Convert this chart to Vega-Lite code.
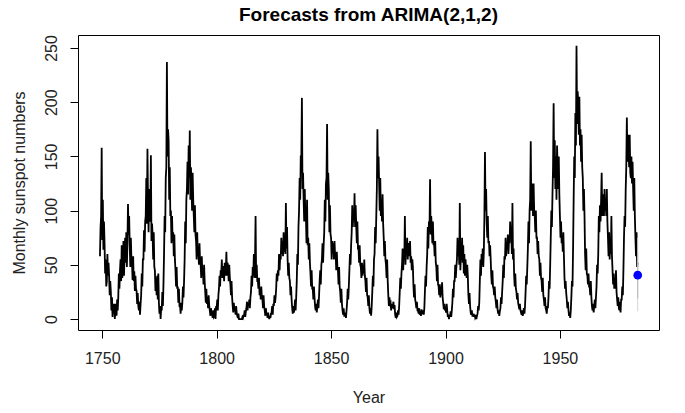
{
  "$schema": "https://vega.github.io/schema/vega-lite/v6.json",
  "width": 581,
  "height": 295,
  "autosize": {"type": "none"},
  "padding": {"left": 78, "top": 35, "right": 26, "bottom": 83},
  "background": "white",
  "config": {
    "view": {"stroke": "black", "strokeWidth": 1},
    "font": "Liberation Sans",
    "axis": {"grid": false, "domain": false, "tickColor": "black", "tickSize": 8, "labelColor": "#222", "titleColor": "#222", "labelFont": "Liberation Sans", "titleFont": "Liberation Sans", "labelFontSize": 16, "titleFontSize": 16, "titleFontWeight": "normal"}
  },
  "title": {"text": "Forecasts from ARIMA(2,1,2)", "font": "Liberation Sans", "fontSize": 19, "fontWeight": "bold", "color": "black", "anchor": "middle", "offset": 10},
  "datasets": {
    "s": [
{"t":1749,"v":58},{"t":1749.25,"v":84},{"t":1749.5,"v":95},{"t":1749.75,"v":158},
{"t":1750,"v":73},{"t":1750.25,"v":110},{"t":1750.5,"v":64},{"t":1750.75,"v":90},
{"t":1751,"v":70},{"t":1751.25,"v":42},{"t":1751.5,"v":55},{"t":1751.75,"v":30},
{"t":1752,"v":35},{"t":1752.25,"v":60},{"t":1752.5,"v":40},{"t":1752.75,"v":52},
{"t":1753,"v":40},{"t":1753.25,"v":22},{"t":1753.5,"v":35},{"t":1753.75,"v":25},
{"t":1754,"v":8},{"t":1754.25,"v":20},{"t":1754.5,"v":2},{"t":1754.75,"v":14},
{"t":1755,"v":5},{"t":1755.25,"v":14},{"t":1755.5,"v":0},{"t":1755.75,"v":12},
{"t":1756,"v":14},{"t":1756.25,"v":3},{"t":1756.5,"v":18},{"t":1756.75,"v":8},
{"t":1757,"v":20},{"t":1757.25,"v":42},{"t":1757.5,"v":28},{"t":1757.75,"v":45},
{"t":1758,"v":55},{"t":1758.25,"v":35},{"t":1758.5,"v":68},{"t":1758.75,"v":38},
{"t":1759,"v":48},{"t":1759.25,"v":72},{"t":1759.5,"v":40},{"t":1759.75,"v":60},
{"t":1760,"v":75},{"t":1760.25,"v":52},{"t":1760.5,"v":80},{"t":1760.75,"v":48},
{"t":1761,"v":70},{"t":1761.25,"v":106},{"t":1761.5,"v":78},{"t":1761.75,"v":95},
{"t":1762,"v":68},{"t":1762.25,"v":48},{"t":1762.5,"v":75},{"t":1762.75,"v":55},
{"t":1763,"v":52},{"t":1763.25,"v":36},{"t":1763.5,"v":58},{"t":1763.75,"v":35},
{"t":1764,"v":44},{"t":1764.25,"v":26},{"t":1764.5,"v":40},{"t":1764.75,"v":28},
{"t":1765,"v":26},{"t":1765.25,"v":14},{"t":1765.5,"v":24},{"t":1765.75,"v":12},
{"t":1766,"v":8},{"t":1766.25,"v":16},{"t":1766.5,"v":4},{"t":1766.75,"v":14},
{"t":1767,"v":22},{"t":1767.25,"v":42},{"t":1767.5,"v":30},{"t":1767.75,"v":55},
{"t":1768,"v":55},{"t":1768.25,"v":82},{"t":1768.5,"v":62},{"t":1768.75,"v":90},
{"t":1769,"v":95},{"t":1769.25,"v":130},{"t":1769.5,"v":88},{"t":1769.75,"v":157},
{"t":1770,"v":110},{"t":1770.25,"v":80},{"t":1770.5,"v":120},{"t":1770.75,"v":92},
{"t":1771,"v":90},{"t":1771.25,"v":151},{"t":1771.5,"v":72},{"t":1771.75,"v":88},
{"t":1772,"v":78},{"t":1772.25,"v":55},{"t":1772.5,"v":80},{"t":1772.75,"v":48},
{"t":1773,"v":45},{"t":1773.25,"v":26},{"t":1773.5,"v":38},{"t":1773.75,"v":22},
{"t":1774,"v":40},{"t":1774.25,"v":18},{"t":1774.5,"v":42},{"t":1774.75,"v":15},
{"t":1775,"v":5},{"t":1775.25,"v":12},{"t":1775.5,"v":0},{"t":1775.75,"v":10},
{"t":1776,"v":8},{"t":1776.25,"v":25},{"t":1776.5,"v":12},{"t":1776.75,"v":32},
{"t":1777,"v":60},{"t":1777.25,"v":95},{"t":1777.5,"v":80},{"t":1777.75,"v":130},
{"t":1778,"v":140},{"t":1778.25,"v":237},{"t":1778.5,"v":150},{"t":1778.75,"v":175},
{"t":1779,"v":165},{"t":1779.25,"v":110},{"t":1779.5,"v":140},{"t":1779.75,"v":95},
{"t":1780,"v":100},{"t":1780.25,"v":70},{"t":1780.5,"v":95},{"t":1780.75,"v":72},
{"t":1781,"v":80},{"t":1781.25,"v":58},{"t":1781.5,"v":78},{"t":1781.75,"v":55},
{"t":1782,"v":45},{"t":1782.25,"v":30},{"t":1782.5,"v":48},{"t":1782.75,"v":28},
{"t":1783,"v":30},{"t":1783.25,"v":15},{"t":1783.5,"v":28},{"t":1783.75,"v":12},
{"t":1784,"v":12},{"t":1784.25,"v":5},{"t":1784.5,"v":15},{"t":1784.75,"v":8},
{"t":1785,"v":15},{"t":1785.25,"v":30},{"t":1785.5,"v":20},{"t":1785.75,"v":35},
{"t":1786,"v":55},{"t":1786.25,"v":90},{"t":1786.5,"v":70},{"t":1786.75,"v":110},
{"t":1787,"v":120},{"t":1787.25,"v":145},{"t":1787.5,"v":115},{"t":1787.75,"v":160},
{"t":1788,"v":130},{"t":1788.25,"v":174},{"t":1788.5,"v":110},{"t":1788.75,"v":140},
{"t":1789,"v":125},{"t":1789.25,"v":100},{"t":1789.5,"v":135},{"t":1789.75,"v":110},
{"t":1790,"v":95},{"t":1790.25,"v":80},{"t":1790.5,"v":105},{"t":1790.75,"v":78},
{"t":1791,"v":72},{"t":1791.25,"v":55},{"t":1791.5,"v":80},{"t":1791.75,"v":58},
{"t":1792,"v":65},{"t":1792.25,"v":50},{"t":1792.5,"v":70},{"t":1792.75,"v":52},
{"t":1793,"v":50},{"t":1793.25,"v":38},{"t":1793.5,"v":58},{"t":1793.75,"v":40},
{"t":1794,"v":45},{"t":1794.25,"v":32},{"t":1794.5,"v":50},{"t":1794.75,"v":35},
{"t":1795,"v":25},{"t":1795.25,"v":15},{"t":1795.5,"v":28},{"t":1795.75,"v":14},
{"t":1796,"v":20},{"t":1796.25,"v":10},{"t":1796.5,"v":22},{"t":1796.75,"v":12},
{"t":1797,"v":8},{"t":1797.25,"v":3},{"t":1797.5,"v":10},{"t":1797.75,"v":5},
{"t":1798,"v":4},{"t":1798.25,"v":1},{"t":1798.5,"v":8},{"t":1798.75,"v":2},
{"t":1799,"v":3},{"t":1799.25,"v":10},{"t":1799.5,"v":0},{"t":1799.75,"v":12},
{"t":1800,"v":10},{"t":1800.25,"v":18},{"t":1800.5,"v":8},{"t":1800.75,"v":22},
{"t":1801,"v":28},{"t":1801.25,"v":40},{"t":1801.5,"v":30},{"t":1801.75,"v":45},
{"t":1802,"v":42},{"t":1802.25,"v":55},{"t":1802.5,"v":38},{"t":1802.75,"v":48},
{"t":1803,"v":48},{"t":1803.25,"v":35},{"t":1803.5,"v":52},{"t":1803.75,"v":40},
{"t":1804,"v":45},{"t":1804.25,"v":62},{"t":1804.5,"v":40},{"t":1804.75,"v":52},
{"t":1805,"v":48},{"t":1805.25,"v":35},{"t":1805.5,"v":50},{"t":1805.75,"v":38},
{"t":1806,"v":32},{"t":1806.25,"v":22},{"t":1806.5,"v":35},{"t":1806.75,"v":20},
{"t":1807,"v":12},{"t":1807.25,"v":6},{"t":1807.5,"v":15},{"t":1807.75,"v":8},
{"t":1808,"v":10},{"t":1808.25,"v":4},{"t":1808.5,"v":12},{"t":1808.75,"v":6},
{"t":1809,"v":3},{"t":1809.25,"v":1},{"t":1809.5,"v":5},{"t":1809.75,"v":0},
{"t":1810,"v":0},{"t":1810.25,"v":0},{"t":1810.5,"v":0},{"t":1810.75,"v":0},
{"t":1811,"v":0},{"t":1811.25,"v":2},{"t":1811.5,"v":1},{"t":1811.75,"v":3},
{"t":1812,"v":4},{"t":1812.25,"v":8},{"t":1812.5,"v":2},{"t":1812.75,"v":7},
{"t":1813,"v":10},{"t":1813.25,"v":16},{"t":1813.5,"v":8},{"t":1813.75,"v":15},
{"t":1814,"v":12},{"t":1814.25,"v":18},{"t":1814.5,"v":10},{"t":1814.75,"v":20},
{"t":1815,"v":25},{"t":1815.25,"v":40},{"t":1815.5,"v":30},{"t":1815.75,"v":48},
{"t":1816,"v":40},{"t":1816.25,"v":60},{"t":1816.5,"v":38},{"t":1816.75,"v":55},
{"t":1817,"v":95},{"t":1817.25,"v":38},{"t":1817.5,"v":50},{"t":1817.75,"v":35},
{"t":1818,"v":35},{"t":1818.25,"v":28},{"t":1818.5,"v":38},{"t":1818.75,"v":22},
{"t":1819,"v":28},{"t":1819.25,"v":18},{"t":1819.5,"v":30},{"t":1819.75,"v":20},
{"t":1820,"v":18},{"t":1820.25,"v":10},{"t":1820.5,"v":22},{"t":1820.75,"v":12},
{"t":1821,"v":8},{"t":1821.25,"v":3},{"t":1821.5,"v":10},{"t":1821.75,"v":5},
{"t":1822,"v":4},{"t":1822.25,"v":1},{"t":1822.5,"v":6},{"t":1822.75,"v":2},
{"t":1823,"v":0},{"t":1823.25,"v":3},{"t":1823.5,"v":1},{"t":1823.75,"v":5},
{"t":1824,"v":6},{"t":1824.25,"v":12},{"t":1824.5,"v":4},{"t":1824.75,"v":14},
{"t":1825,"v":12},{"t":1825.25,"v":22},{"t":1825.5,"v":15},{"t":1825.75,"v":20},
{"t":1826,"v":28},{"t":1826.25,"v":42},{"t":1826.5,"v":35},{"t":1826.75,"v":45},
{"t":1827,"v":40},{"t":1827.25,"v":60},{"t":1827.5,"v":45},{"t":1827.75,"v":58},
{"t":1828,"v":55},{"t":1828.25,"v":75},{"t":1828.5,"v":60},{"t":1828.75,"v":72},
{"t":1829,"v":58},{"t":1829.25,"v":80},{"t":1829.5,"v":62},{"t":1829.75,"v":78},
{"t":1830,"v":60},{"t":1830.25,"v":107},{"t":1830.5,"v":65},{"t":1830.75,"v":85},
{"t":1831,"v":55},{"t":1831.25,"v":40},{"t":1831.5,"v":52},{"t":1831.75,"v":38},
{"t":1832,"v":35},{"t":1832.25,"v":22},{"t":1832.5,"v":30},{"t":1832.75,"v":18},
{"t":1833,"v":10},{"t":1833.25,"v":5},{"t":1833.5,"v":12},{"t":1833.75,"v":6},
{"t":1834,"v":10},{"t":1834.25,"v":18},{"t":1834.5,"v":8},{"t":1834.75,"v":20},
{"t":1835,"v":35},{"t":1835.25,"v":60},{"t":1835.5,"v":50},{"t":1835.75,"v":85},
{"t":1836,"v":100},{"t":1836.25,"v":130},{"t":1836.5,"v":110},{"t":1836.75,"v":150},
{"t":1837,"v":150},{"t":1837.25,"v":204},{"t":1837.5,"v":120},{"t":1837.75,"v":135},
{"t":1838,"v":110},{"t":1838.25,"v":90},{"t":1838.5,"v":120},{"t":1838.75,"v":95},
{"t":1839,"v":95},{"t":1839.25,"v":70},{"t":1839.5,"v":110},{"t":1839.75,"v":68},
{"t":1840,"v":75},{"t":1840.25,"v":55},{"t":1840.5,"v":70},{"t":1840.75,"v":52},
{"t":1841,"v":42},{"t":1841.25,"v":30},{"t":1841.5,"v":45},{"t":1841.75,"v":28},
{"t":1842,"v":28},{"t":1842.25,"v":18},{"t":1842.5,"v":30},{"t":1842.75,"v":20},
{"t":1843,"v":12},{"t":1843.25,"v":8},{"t":1843.5,"v":14},{"t":1843.75,"v":6},
{"t":1844,"v":12},{"t":1844.25,"v":18},{"t":1844.5,"v":10},{"t":1844.75,"v":22},
{"t":1845,"v":35},{"t":1845.25,"v":45},{"t":1845.5,"v":32},{"t":1845.75,"v":50},
{"t":1846,"v":55},{"t":1846.25,"v":70},{"t":1846.5,"v":52},{"t":1846.75,"v":68},
{"t":1847,"v":80},{"t":1847.25,"v":110},{"t":1847.5,"v":90},{"t":1847.75,"v":125},
{"t":1848,"v":130},{"t":1848.25,"v":180},{"t":1848.5,"v":110},{"t":1848.75,"v":135},
{"t":1849,"v":120},{"t":1849.25,"v":80},{"t":1849.5,"v":105},{"t":1849.75,"v":78},
{"t":1850,"v":75},{"t":1850.25,"v":55},{"t":1850.5,"v":72},{"t":1850.75,"v":62},
{"t":1851,"v":70},{"t":1851.25,"v":55},{"t":1851.5,"v":72},{"t":1851.75,"v":58},
{"t":1852,"v":60},{"t":1852.25,"v":45},{"t":1852.5,"v":62},{"t":1852.75,"v":48},
{"t":1853,"v":45},{"t":1853.25,"v":32},{"t":1853.5,"v":48},{"t":1853.75,"v":30},
{"t":1854,"v":25},{"t":1854.25,"v":15},{"t":1854.5,"v":28},{"t":1854.75,"v":14},
{"t":1855,"v":8},{"t":1855.25,"v":4},{"t":1855.5,"v":10},{"t":1855.75,"v":3},
{"t":1856,"v":3},{"t":1856.25,"v":6},{"t":1856.5,"v":1},{"t":1856.75,"v":8},
{"t":1857,"v":15},{"t":1857.25,"v":28},{"t":1857.5,"v":18},{"t":1857.75,"v":30},
{"t":1858,"v":45},{"t":1858.25,"v":60},{"t":1858.5,"v":50},{"t":1858.75,"v":68},
{"t":1859,"v":80},{"t":1859.25,"v":105},{"t":1859.5,"v":85},{"t":1859.75,"v":100},
{"t":1860,"v":90},{"t":1860.25,"v":116},{"t":1860.5,"v":85},{"t":1860.75,"v":105},
{"t":1861,"v":85},{"t":1861.25,"v":70},{"t":1861.5,"v":90},{"t":1861.75,"v":65},
{"t":1862,"v":65},{"t":1862.25,"v":52},{"t":1862.5,"v":68},{"t":1862.75,"v":50},
{"t":1863,"v":48},{"t":1863.25,"v":38},{"t":1863.5,"v":52},{"t":1863.75,"v":40},
{"t":1864,"v":50},{"t":1864.25,"v":42},{"t":1864.5,"v":55},{"t":1864.75,"v":40},
{"t":1865,"v":35},{"t":1865.25,"v":25},{"t":1865.5,"v":38},{"t":1865.75,"v":22},
{"t":1866,"v":20},{"t":1866.25,"v":12},{"t":1866.5,"v":22},{"t":1866.75,"v":10},
{"t":1867,"v":5},{"t":1867.25,"v":10},{"t":1867.5,"v":3},{"t":1867.75,"v":12},
{"t":1868,"v":25},{"t":1868.25,"v":40},{"t":1868.5,"v":30},{"t":1868.75,"v":55},
{"t":1869,"v":60},{"t":1869.25,"v":85},{"t":1869.5,"v":70},{"t":1869.75,"v":95},
{"t":1870,"v":120},{"t":1870.25,"v":175},{"t":1870.5,"v":130},{"t":1870.75,"v":150},
{"t":1871,"v":125},{"t":1871.25,"v":100},{"t":1871.5,"v":130},{"t":1871.75,"v":95},
{"t":1872,"v":110},{"t":1872.25,"v":90},{"t":1872.5,"v":115},{"t":1872.75,"v":88},
{"t":1873,"v":75},{"t":1873.25,"v":58},{"t":1873.5,"v":72},{"t":1873.75,"v":55},
{"t":1874,"v":50},{"t":1874.25,"v":38},{"t":1874.5,"v":55},{"t":1874.75,"v":35},
{"t":1875,"v":22},{"t":1875.25,"v":12},{"t":1875.5,"v":20},{"t":1875.75,"v":14},
{"t":1876,"v":15},{"t":1876.25,"v":8},{"t":1876.5,"v":14},{"t":1876.75,"v":10},
{"t":1877,"v":12},{"t":1877.25,"v":16},{"t":1877.5,"v":9},{"t":1877.75,"v":13},
{"t":1878,"v":4},{"t":1878.25,"v":1},{"t":1878.5,"v":6},{"t":1878.75,"v":2},
{"t":1879,"v":3},{"t":1879.25,"v":8},{"t":1879.5,"v":4},{"t":1879.75,"v":12},
{"t":1880,"v":25},{"t":1880.25,"v":38},{"t":1880.5,"v":28},{"t":1880.75,"v":42},
{"t":1881,"v":50},{"t":1881.25,"v":65},{"t":1881.5,"v":45},{"t":1881.75,"v":60},
{"t":1882,"v":55},{"t":1882.25,"v":95},{"t":1882.5,"v":50},{"t":1882.75,"v":65},
{"t":1883,"v":60},{"t":1883.25,"v":75},{"t":1883.5,"v":55},{"t":1883.75,"v":68},
{"t":1884,"v":70},{"t":1884.25,"v":58},{"t":1884.5,"v":72},{"t":1884.75,"v":52},
{"t":1885,"v":58},{"t":1885.25,"v":45},{"t":1885.5,"v":55},{"t":1885.75,"v":48},
{"t":1886,"v":30},{"t":1886.25,"v":20},{"t":1886.5,"v":32},{"t":1886.75,"v":18},
{"t":1887,"v":15},{"t":1887.25,"v":10},{"t":1887.5,"v":16},{"t":1887.75,"v":8},
{"t":1888,"v":8},{"t":1888.25,"v":5},{"t":1888.5,"v":10},{"t":1888.75,"v":4},
{"t":1889,"v":6},{"t":1889.25,"v":3},{"t":1889.5,"v":9},{"t":1889.75,"v":5},
{"t":1890,"v":5},{"t":1890.25,"v":8},{"t":1890.5,"v":4},{"t":1890.75,"v":10},
{"t":1891,"v":25},{"t":1891.25,"v":40},{"t":1891.5,"v":30},{"t":1891.75,"v":48},
{"t":1892,"v":60},{"t":1892.25,"v":85},{"t":1892.5,"v":65},{"t":1892.75,"v":90},
{"t":1893,"v":80},{"t":1893.25,"v":129},{"t":1893.5,"v":78},{"t":1893.75,"v":95},
{"t":1894,"v":85},{"t":1894.25,"v":70},{"t":1894.5,"v":90},{"t":1894.75,"v":68},
{"t":1895,"v":70},{"t":1895.25,"v":58},{"t":1895.5,"v":72},{"t":1895.75,"v":52},
{"t":1896,"v":48},{"t":1896.25,"v":35},{"t":1896.5,"v":50},{"t":1896.75,"v":32},
{"t":1897,"v":30},{"t":1897.25,"v":22},{"t":1897.5,"v":32},{"t":1897.75,"v":20},
{"t":1898,"v":30},{"t":1898.25,"v":22},{"t":1898.5,"v":34},{"t":1898.75,"v":20},
{"t":1899,"v":15},{"t":1899.25,"v":9},{"t":1899.5,"v":14},{"t":1899.75,"v":8},
{"t":1900,"v":10},{"t":1900.25,"v":6},{"t":1900.5,"v":14},{"t":1900.75,"v":8},
{"t":1901,"v":2},{"t":1901.25,"v":4},{"t":1901.5,"v":0},{"t":1901.75,"v":3},
{"t":1902,"v":3},{"t":1902.25,"v":7},{"t":1902.5,"v":2},{"t":1902.75,"v":8},
{"t":1903,"v":15},{"t":1903.25,"v":28},{"t":1903.5,"v":20},{"t":1903.75,"v":35},
{"t":1904,"v":35},{"t":1904.25,"v":50},{"t":1904.5,"v":38},{"t":1904.75,"v":48},
{"t":1905,"v":55},{"t":1905.25,"v":75},{"t":1905.5,"v":58},{"t":1905.75,"v":70},
{"t":1906,"v":50},{"t":1906.25,"v":107},{"t":1906.5,"v":45},{"t":1906.75,"v":60},
{"t":1907,"v":55},{"t":1907.25,"v":75},{"t":1907.5,"v":52},{"t":1907.75,"v":68},
{"t":1908,"v":42},{"t":1908.25,"v":60},{"t":1908.5,"v":40},{"t":1908.75,"v":55},
{"t":1909,"v":45},{"t":1909.25,"v":38},{"t":1909.5,"v":50},{"t":1909.75,"v":40},
{"t":1910,"v":22},{"t":1910.25,"v":14},{"t":1910.5,"v":24},{"t":1910.75,"v":12},
{"t":1911,"v":6},{"t":1911.25,"v":4},{"t":1911.5,"v":8},{"t":1911.75,"v":3},
{"t":1912,"v":3},{"t":1912.25,"v":5},{"t":1912.5,"v":2},{"t":1912.75,"v":4},
{"t":1913,"v":1},{"t":1913.25,"v":2},{"t":1913.5,"v":0},{"t":1913.75,"v":3},
{"t":1914,"v":5},{"t":1914.25,"v":12},{"t":1914.5,"v":8},{"t":1914.75,"v":15},
{"t":1915,"v":35},{"t":1915.25,"v":55},{"t":1915.5,"v":40},{"t":1915.75,"v":60},
{"t":1916,"v":50},{"t":1916.25,"v":65},{"t":1916.5,"v":48},{"t":1916.75,"v":62},
{"t":1917,"v":95},{"t":1917.25,"v":154},{"t":1917.5,"v":100},{"t":1917.75,"v":120},
{"t":1918,"v":90},{"t":1918.25,"v":75},{"t":1918.5,"v":95},{"t":1918.75,"v":70},
{"t":1919,"v":72},{"t":1919.25,"v":58},{"t":1919.5,"v":68},{"t":1919.75,"v":55},
{"t":1920,"v":40},{"t":1920.25,"v":32},{"t":1920.5,"v":45},{"t":1920.75,"v":30},
{"t":1921,"v":28},{"t":1921.25,"v":22},{"t":1921.5,"v":30},{"t":1921.75,"v":20},
{"t":1922,"v":16},{"t":1922.25,"v":10},{"t":1922.5,"v":18},{"t":1922.75,"v":9},
{"t":1923,"v":5},{"t":1923.25,"v":8},{"t":1923.5,"v":3},{"t":1923.75,"v":7},
{"t":1924,"v":10},{"t":1924.25,"v":20},{"t":1924.5,"v":14},{"t":1924.75,"v":25},
{"t":1925,"v":35},{"t":1925.25,"v":50},{"t":1925.5,"v":38},{"t":1925.75,"v":58},
{"t":1926,"v":55},{"t":1926.25,"v":75},{"t":1926.5,"v":58},{"t":1926.75,"v":70},
{"t":1927,"v":65},{"t":1927.25,"v":78},{"t":1927.5,"v":60},{"t":1927.75,"v":72},
{"t":1928,"v":70},{"t":1928.25,"v":90},{"t":1928.5,"v":75},{"t":1928.75,"v":82},
{"t":1929,"v":60},{"t":1929.25,"v":107},{"t":1929.5,"v":55},{"t":1929.75,"v":65},
{"t":1930,"v":40},{"t":1930.25,"v":30},{"t":1930.5,"v":42},{"t":1930.75,"v":28},
{"t":1931,"v":25},{"t":1931.25,"v":18},{"t":1931.5,"v":24},{"t":1931.75,"v":15},
{"t":1932,"v":12},{"t":1932.25,"v":9},{"t":1932.5,"v":14},{"t":1932.75,"v":8},
{"t":1933,"v":6},{"t":1933.25,"v":4},{"t":1933.5,"v":8},{"t":1933.75,"v":3},
{"t":1934,"v":6},{"t":1934.25,"v":10},{"t":1934.5,"v":5},{"t":1934.75,"v":12},
{"t":1935,"v":25},{"t":1935.25,"v":40},{"t":1935.5,"v":32},{"t":1935.75,"v":48},
{"t":1936,"v":65},{"t":1936.25,"v":90},{"t":1936.5,"v":70},{"t":1936.75,"v":100},
{"t":1937,"v":110},{"t":1937.25,"v":164},{"t":1937.5,"v":100},{"t":1937.75,"v":125},
{"t":1938,"v":120},{"t":1938.25,"v":95},{"t":1938.5,"v":125},{"t":1938.75,"v":100},
{"t":1939,"v":95},{"t":1939.25,"v":80},{"t":1939.5,"v":100},{"t":1939.75,"v":75},
{"t":1940,"v":75},{"t":1940.25,"v":60},{"t":1940.5,"v":72},{"t":1940.75,"v":58},
{"t":1941,"v":55},{"t":1941.25,"v":40},{"t":1941.5,"v":52},{"t":1941.75,"v":38},
{"t":1942,"v":35},{"t":1942.25,"v":25},{"t":1942.5,"v":38},{"t":1942.75,"v":22},
{"t":1943,"v":18},{"t":1943.25,"v":12},{"t":1943.5,"v":20},{"t":1943.75,"v":10},
{"t":1944,"v":8},{"t":1944.25,"v":5},{"t":1944.5,"v":12},{"t":1944.75,"v":10},
{"t":1945,"v":20},{"t":1945.25,"v":35},{"t":1945.5,"v":28},{"t":1945.75,"v":50},
{"t":1946,"v":75},{"t":1946.25,"v":100},{"t":1946.5,"v":85},{"t":1946.75,"v":115},
{"t":1947,"v":140},{"t":1947.25,"v":199},{"t":1947.5,"v":130},{"t":1947.75,"v":165},
{"t":1948,"v":120},{"t":1948.25,"v":150},{"t":1948.5,"v":110},{"t":1948.75,"v":160},
{"t":1949,"v":140},{"t":1949.25,"v":120},{"t":1949.5,"v":150},{"t":1949.75,"v":115},
{"t":1950,"v":95},{"t":1950.25,"v":75},{"t":1950.5,"v":90},{"t":1950.75,"v":70},
{"t":1951,"v":75},{"t":1951.25,"v":62},{"t":1951.5,"v":80},{"t":1951.75,"v":58},
{"t":1952,"v":38},{"t":1952.25,"v":28},{"t":1952.5,"v":35},{"t":1952.75,"v":24},
{"t":1953,"v":18},{"t":1953.25,"v":10},{"t":1953.5,"v":16},{"t":1953.75,"v":8},
{"t":1954,"v":3},{"t":1954.25,"v":6},{"t":1954.5,"v":1},{"t":1954.75,"v":8},
{"t":1955,"v":20},{"t":1955.25,"v":35},{"t":1955.5,"v":30},{"t":1955.75,"v":65},
{"t":1956,"v":110},{"t":1956.25,"v":150},{"t":1956.5,"v":130},{"t":1956.75,"v":190},
{"t":1957,"v":160},{"t":1957.25,"v":252},{"t":1957.5,"v":180},{"t":1957.75,"v":210},
{"t":1958,"v":200},{"t":1958.25,"v":170},{"t":1958.5,"v":205},{"t":1958.75,"v":160},
{"t":1959,"v":175},{"t":1959.25,"v":145},{"t":1959.5,"v":170},{"t":1959.75,"v":140},
{"t":1960,"v":130},{"t":1960.25,"v":100},{"t":1960.5,"v":120},{"t":1960.75,"v":95},
{"t":1961,"v":60},{"t":1961.25,"v":45},{"t":1961.5,"v":65},{"t":1961.75,"v":42},
{"t":1962,"v":40},{"t":1962.25,"v":32},{"t":1962.5,"v":42},{"t":1962.75,"v":30},
{"t":1963,"v":30},{"t":1963.25,"v":22},{"t":1963.5,"v":35},{"t":1963.75,"v":20},
{"t":1964,"v":12},{"t":1964.25,"v":8},{"t":1964.5,"v":14},{"t":1964.75,"v":6},
{"t":1965,"v":12},{"t":1965.25,"v":18},{"t":1965.5,"v":10},{"t":1965.75,"v":20},
{"t":1966,"v":30},{"t":1966.25,"v":50},{"t":1966.5,"v":42},{"t":1966.75,"v":60},
{"t":1967,"v":95},{"t":1967.25,"v":80},{"t":1967.5,"v":105},{"t":1967.75,"v":90},
{"t":1968,"v":110},{"t":1968.25,"v":135},{"t":1968.5,"v":95},{"t":1968.75,"v":110},
{"t":1969,"v":115},{"t":1969.25,"v":95},{"t":1969.5,"v":120},{"t":1969.75,"v":100},
{"t":1970,"v":110},{"t":1970.25,"v":95},{"t":1970.5,"v":120},{"t":1970.75,"v":90},
{"t":1971,"v":75},{"t":1971.25,"v":58},{"t":1971.5,"v":80},{"t":1971.75,"v":55},
{"t":1972,"v":75},{"t":1972.25,"v":60},{"t":1972.5,"v":95},{"t":1972.75,"v":58},
{"t":1973,"v":45},{"t":1973.25,"v":32},{"t":1973.5,"v":42},{"t":1973.75,"v":28},
{"t":1974,"v":38},{"t":1974.25,"v":28},{"t":1974.5,"v":45},{"t":1974.75,"v":25},
{"t":1975,"v":18},{"t":1975.25,"v":12},{"t":1975.5,"v":20},{"t":1975.75,"v":10},
{"t":1976,"v":8},{"t":1976.25,"v":16},{"t":1976.5,"v":6},{"t":1976.75,"v":18},
{"t":1977,"v":18},{"t":1977.25,"v":30},{"t":1977.5,"v":22},{"t":1977.75,"v":45},
{"t":1978,"v":75},{"t":1978.25,"v":95},{"t":1978.5,"v":85},{"t":1978.75,"v":120},
{"t":1979,"v":140},{"t":1979.25,"v":186},{"t":1979.5,"v":145},{"t":1979.75,"v":170},
{"t":1980,"v":160},{"t":1980.25,"v":140},{"t":1980.5,"v":170},{"t":1980.75,"v":135},
{"t":1981,"v":130},{"t":1981.25,"v":150},{"t":1981.5,"v":125},{"t":1981.75,"v":145},
{"t":1982,"v":120},{"t":1982.25,"v":100},{"t":1982.5,"v":130},{"t":1982.75,"v":95},
{"t":1983,"v":75},{"t":1983.25,"v":58},{"t":1983.5,"v":80},{"t":1983.75,"v":48},{"t":1983.92,"v":52}
    ],
    "f": [{"t":1984.0,"f":40.5,"lo95":7,"hi95":75,"lo80":19,"hi80":62}]
  },
  "layer": [
    {
      "data": {"name": "s"},
      "mark": {"type": "line", "color": "black", "strokeWidth": 1.8, "clip": true},
      "encoding": {
        "x": {"field": "t", "type": "quantitative", "scale": {"domain": [1739.4, 1993.3], "nice": false, "zero": false},
              "axis": {"values": [1750, 1800, 1850, 1900, 1950], "title": "Year", "labelPadding": 12, "titlePadding": 23, "format": "d"}},
        "y": {"field": "v", "type": "quantitative", "scale": {"domain": [-10.1, 262], "nice": false, "zero": false},
              "axis": {"values": [0, 50, 100, 150, 200, 250], "title": "Monthly sunspot numbers", "labelAngle": -90, "labelAlign": "center", "labelBaseline": "bottom", "labelPadding": 11, "titlePadding": 16}}
      }
    },
    {
      "data": {"name": "f"},
      "mark": {"type": "rule", "color": "#d4d4d4", "strokeWidth": 1},
      "encoding": {"x": {"field": "t", "type": "quantitative"}, "y": {"field": "lo95", "type": "quantitative"}, "y2": {"field": "hi95"}}
    },
    {
      "data": {"name": "f"},
      "mark": {"type": "rule", "color": "#b8b8b8", "strokeWidth": 1},
      "encoding": {"x": {"field": "t", "type": "quantitative"}, "y": {"field": "lo80", "type": "quantitative"}, "y2": {"field": "hi80"}}
    },
    {
      "data": {"name": "f"},
      "mark": {"type": "point", "filled": true, "color": "#0000ff", "size": 75, "opacity": 1},
      "encoding": {"x": {"field": "t", "type": "quantitative"}, "y": {"field": "f", "type": "quantitative"}}
    }
  ]
}
